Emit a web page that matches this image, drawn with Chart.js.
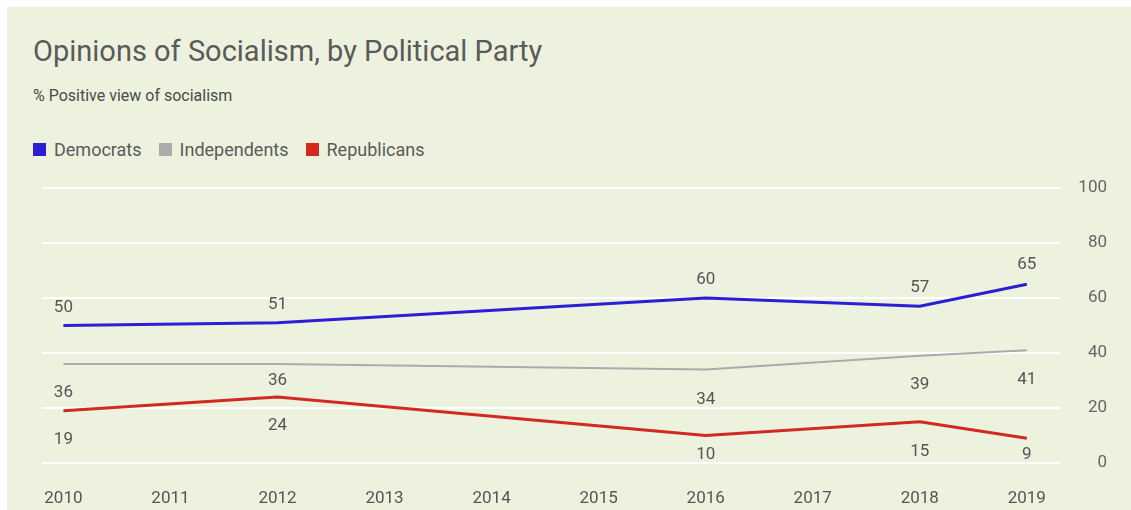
<!DOCTYPE html>
<html>
<head>
<meta charset="utf-8">
<script src="https://cdn.jsdelivr.net/npm/chart.js@4/dist/chart.umd.min.js"></script>
<style>
  html, body { margin: 0; padding: 0; background: #fff; }
  body { width: 1131px; height: 510px; overflow: hidden; position: relative; font-family: "Roboto", "Liberation Sans", sans-serif; }
  #panel { position: absolute; left: 7px; top: 7px; width: 1124px; height: 503px; background: #edf2df; }
  #title { position: absolute; left: 26px; top: 27px; font-size: 29px; color: #5a5a5a; white-space: nowrap; }
  #subtitle { position: absolute; left: 26px; top: 79px; font-size: 16px; color: #4a4a4a; white-space: nowrap; }
  #legend { position: absolute; left: 26px; top: 132px; display: flex; font-size: 18px; color: #5a5a5a; }
  #legend span.item { display: flex; align-items: center; margin-right: 17px; }
  #legend span.box { width: 13px; height: 13px; margin-right: 8px; display: inline-block; }
  #chart { position: absolute; left: 0; top: 0; }
</style>
</head>
<body>
<div id="panel">
  <div id="title">Opinions of Socialism, by Political Party</div>
  <div id="subtitle">% Positive view of socialism</div>
  <div id="legend"></div>
  <canvas id="chart" width="1124" height="503"></canvas>
</div>
<script>
// survey years and share with a positive view, per party
const years = [2010, 2012, 2016, 2018, 2019];
const yearTicks = [2010, 2011, 2012, 2013, 2014, 2015, 2016, 2017, 2018, 2019];
const democrats = [50, 51, 60, 57, 65];
const independents = [36, 36, 34, 39, 41];
const republicans = [19, 24, 10, 15, 9];
const yTicks = [0, 20, 40, 60, 80, 100];

const partyNames = ['Democrats', 'Independents', 'Republicans'];
const partyColors = ['#2b1ed4', '#ababab', '#d22a1e'];

// vertical nudge of each value label, in px (negative = above the line)
const labelShift = [
  [-18, -18, -18, -18.5, -19.5],
  [28.5, 16.5, 30.5, 29, 29.5],
  [29, 28.5, 19.5, 29.5, 16.5]
];

// legend
const legendEl = document.getElementById('legend');
partyNames.forEach((name, i) => {
  const item = document.createElement('span');
  item.className = 'item';
  const box = document.createElement('span');
  box.className = 'box';
  box.style.background = partyColors[i];
  item.appendChild(box);
  item.appendChild(document.createTextNode(name));
  legendEl.appendChild(item);
});

const toPoints = (vals) => vals.map((v, i) => ({x: years[i], y: v}));

const valueLabels = {
  id: 'valueLabels',
  afterDatasetsDraw(chart) {
    const ctx = chart.ctx;
    ctx.save();
    ctx.font = '17px Roboto, "Liberation Sans", sans-serif';
    ctx.fillStyle = '#555';
    ctx.textAlign = 'center';
    ctx.textBaseline = 'middle';
    chart.data.datasets.forEach((ds, d) => {
      chart.getDatasetMeta(d).data.forEach((pt, i) => {
        ctx.fillText(String(ds.data[i].y), pt.x, pt.y + labelShift[d][i]);
      });
    });
    ctx.restore();
  }
};

const widths = [3, 2, 3];
const sets = [democrats, independents, republicans].map((vals, i) => ({
  label: partyNames[i],
  data: toPoints(vals),
  borderColor: partyColors[i],
  backgroundColor: partyColors[i],
  borderWidth: widths[i],
  pointRadius: 0,
  tension: 0
}));

new Chart(document.getElementById('chart'), {
  type: 'line',
  data: { datasets: sets },
  plugins: [valueLabels],
  options: {
    responsive: false,
    animation: false,
    layout: { padding: { left: 35, right: 24, top: 181, bottom: 0 } },
    plugins: {
      legend: { display: false },
      tooltip: { enabled: false }
    },
    scales: {
      x: {
        type: 'linear',
        min: 2009.8,
        max: 2019.31,
        afterBuildTicks: (scale) => { scale.ticks = yearTicks.map(v => ({value: v})); },
        afterFit: (scale) => { scale.height = 47; },
        grid: { display: false, drawTicks: false },
        border: { display: false },
        ticks: {
          padding: 26,
          maxRotation: 0,
          autoSkip: false,
          color: '#555',
          font: { size: 17, family: 'Roboto' },
          callback: (v) => String(v)
        }
      },
      y: {
        position: 'right',
        min: 0,
        max: 100,
        afterBuildTicks: (scale) => { scale.ticks = yTicks.map(v => ({value: v})); },
        afterFit: (scale) => { scale.width = 47; },
        grid: { color: '#ffffff', lineWidth: 2, drawTicks: false },
        border: { display: false },
        ticks: {
          padding: 18,
          crossAlign: 'far',
          color: '#666',
          font: { size: 17, family: 'Roboto' }
        }
      }
    }
  }
});
</script>
</body>
</html>
